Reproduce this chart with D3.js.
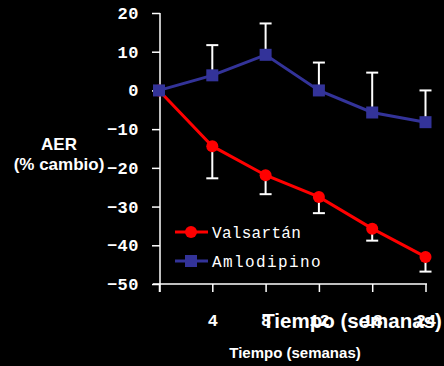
<!DOCTYPE html>
<html>
<head>
<meta charset="utf-8">
<script src="https://cdn.jsdelivr.net/npm/d3@7"></script>
<style>
  html, body { margin: 0; padding: 0; background: #000; }
  svg { display: block; }
</style>
</head>
<body>
<div id="chart"></div>
<script>
// weeks on the x axis (equally spaced categories)
const weeks = ["0", "4", "8", "12", "18", "24"];
const tickLabels = ["", "4", "8", "12", "18", "24"];
const yTicks = [20, 10, 0, -10, -20, -30, -40, -50];

const valsartan = [0, -14.4, -21.9, -27.5, -35.7, -43.0];
const valsartanErr = [0, -22.7, -26.8, -31.7, -38.8, -46.8];   // lower bar ends
const amlodipino = [0, 3.9, 9.2, 0, -5.7, -8.2];
const amlodipinoErr = [0, 11.7, 17.3, 7.2, 4.6, 0];           // upper bar ends

const width = 444, height = 366;

const svg = d3.select("#chart").append("svg")
    .attr("width", width)
    .attr("height", height)
    .style("background", "#000");

const x = d3.scalePoint().domain(weeks).range([159, 425.5]);
const y = d3.scaleLinear().domain([-50, 20]).range([284, 13]);

const monoFont = "'Liberation Mono', 'DejaVu Sans Mono', monospace";
const sansFont = "'Liberation Sans', Arial, sans-serif";

// y axis
const yAxis = svg.append("g")
    .attr("transform", "translate(160,0)")
    .call(d3.axisLeft(y).tickValues(yTicks).tickSize(8).tickPadding(13).tickFormat(d3.format("d")));
yAxis.select(".domain").remove();
yAxis.append("line")
    .attr("x1", 0).attr("x2", 0)
    .attr("y1", y(20)).attr("y2", 292)
    .attr("stroke", "#fff").attr("stroke-width", 1.5);
yAxis.selectAll(".tick line").attr("stroke", "#fff").attr("stroke-width", 1.5);
yAxis.selectAll(".tick text")
    .attr("fill", "#fff")
    .style("font-family", monoFont)
    .style("font-weight", "bold")
    .style("font-size", "17px")
    .style("letter-spacing", "0.5px");

// x axis
const xAxis = svg.append("g")
    .attr("transform", `translate(0,${y(-50)})`)
    .call(d3.axisBottom(x).tickSize(8).tickPadding(22).tickFormat((d, i) => tickLabels[i]));
xAxis.select(".domain").remove();
xAxis.append("line")
    .attr("x1", 153).attr("x2", 427)
    .attr("y1", 0).attr("y2", 0)
    .attr("stroke", "#fff").attr("stroke-width", 1.5);
xAxis.selectAll(".tick line").attr("stroke", "#fff").attr("stroke-width", 1.5);
xAxis.selectAll(".tick text")
    .attr("fill", "#fff")
    .style("font-family", monoFont)
    .style("font-weight", "bold")
    .style("font-size", "17px");

// error bars
function errorBars(vals, ends) {
    const g = svg.append("g").attr("stroke", "#fff").attr("stroke-width", 2);
    weeks.forEach((w, i) => {
        if (i === 0) return;
        g.append("line")
            .attr("x1", x(w)).attr("x2", x(w))
            .attr("y1", y(vals[i])).attr("y2", y(ends[i]));
        g.append("line")
            .attr("x1", x(w) - 6).attr("x2", x(w) + 6)
            .attr("y1", y(ends[i])).attr("y2", y(ends[i]));
    });
}
errorBars(valsartan, valsartanErr);
errorBars(amlodipino, amlodipinoErr);

const line = d3.line().x((d, i) => x(weeks[i])).y(d => y(d));

// Valsartan series
svg.append("path")
    .datum(valsartan)
    .attr("d", line)
    .attr("fill", "none")
    .attr("stroke", "#ff0000")
    .attr("stroke-width", 3);
svg.append("g").selectAll("circle")
    .data(valsartan)
    .join("circle")
    .attr("cx", (d, i) => x(weeks[i]))
    .attr("cy", d => y(d))
    .attr("r", 6)
    .attr("fill", "#ff0000");

// Amlodipino series
svg.append("path")
    .datum(amlodipino)
    .attr("d", line)
    .attr("fill", "none")
    .attr("stroke", "#333399")
    .attr("stroke-width", 3);
svg.append("g").selectAll("rect")
    .data(amlodipino)
    .join("rect")
    .attr("x", (d, i) => x(weeks[i]) - 6)
    .attr("y", d => y(d) - 6)
    .attr("width", 12)
    .attr("height", 12)
    .attr("fill", "#333399");

// legend
const legend = svg.append("g");
legend.append("line")
    .attr("x1", 175).attr("x2", 208).attr("y1", 232).attr("y2", 232)
    .attr("stroke", "#ff0000").attr("stroke-width", 3);
legend.append("circle").attr("cx", 191).attr("cy", 232).attr("r", 6).attr("fill", "#ff0000");
legend.append("text")
    .attr("x", 212).attr("y", 238)
    .attr("fill", "#fff")
    .style("font-family", monoFont)
    .style("font-size", "16px")
    .style("letter-spacing", "0.3px")
    .text("Valsartán");
legend.append("line")
    .attr("x1", 175).attr("x2", 208).attr("y1", 261).attr("y2", 261)
    .attr("stroke", "#333399").attr("stroke-width", 3);
legend.append("rect").attr("x", 185).attr("y", 255).attr("width", 12).attr("height", 12).attr("fill", "#333399");
legend.append("text")
    .attr("x", 212).attr("y", 267)
    .attr("fill", "#fff")
    .style("font-family", monoFont)
    .style("font-size", "16px")
    .style("letter-spacing", "1.4px")
    .text("Amlodipino");

// titles
svg.append("text")
    .attr("x", 59).attr("y", 150)
    .attr("text-anchor", "middle")
    .attr("fill", "#fff")
    .style("font-family", sansFont)
    .style("font-weight", "bold")
    .style("font-size", "17px")
    .text("AER");
svg.append("text")
    .attr("x", 59).attr("y", 170)
    .attr("text-anchor", "middle")
    .attr("fill", "#fff")
    .style("font-family", sansFont)
    .style("font-weight", "bold")
    .style("font-size", "17px")
    .text("(% cambio)");

svg.append("text")
    .attr("x", 352).attr("y", 328)
    .attr("text-anchor", "middle")
    .attr("fill", "#fff")
    .style("font-family", sansFont)
    .style("font-weight", "bold")
    .style("font-size", "20.5px")
    .text("Tiempo (semanas)");
svg.append("text")
    .attr("x", 295).attr("y", 358)
    .attr("text-anchor", "middle")
    .attr("fill", "#fff")
    .style("font-family", sansFont)
    .style("font-weight", "bold")
    .style("font-size", "15px")
    .text("Tiempo (semanas)");
</script>
</body>
</html>
